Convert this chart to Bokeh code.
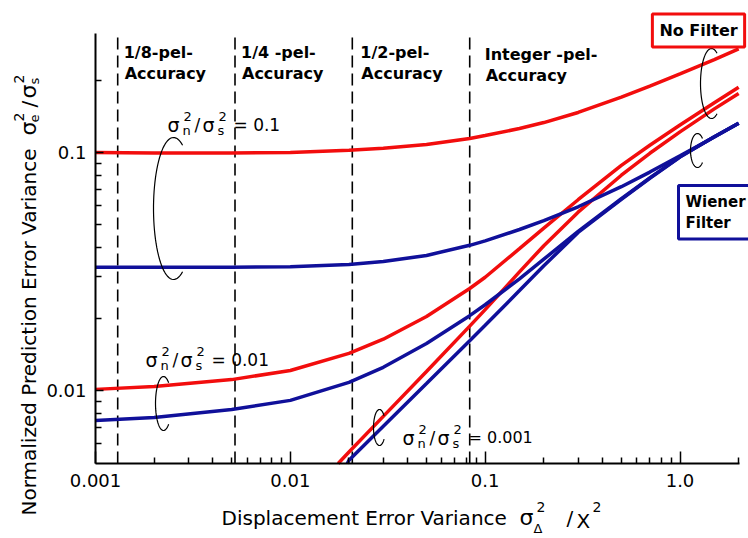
from math import log10, cos, sin, radians, pi

from bokeh.plotting import figure
from bokeh.models import FixedTicker, Label, Range1d
from bokeh.embed import file_html
from bokeh.resources import INLINE

# ---------------------------------------------------------------- data
x_ticks = [0.001, 0.01, 0.1, 1.0]
x_tick_labels = ["0.001", "0.01", "0.1", "1.0"]
x_minor = [0.002, 0.003, 0.004, 0.005, 0.006, 0.007, 0.008, 0.009,
           0.02, 0.03, 0.04, 0.05, 0.06, 0.07, 0.08, 0.09,
           0.2, 0.3, 0.4, 0.5, 0.6, 0.7, 0.8, 0.9, 2.0]
y_ticks = [0.01, 0.1]
y_tick_labels = ["0.01", "0.1"]
y_minor = [0.006, 0.007, 0.008, 0.009,
           0.02, 0.03, 0.04, 0.05, 0.06, 0.07, 0.08, 0.09, 0.2]

# displacement error variance reached with each motion-vector accuracy
accuracy_var = [0.0013, 0.0052, 0.0208, 0.0833]
accuracy_names = ["1/8-pel-", "1/4 -pel-", "1/2-pel-", "Integer -pel-"]

# displacement error variance sigma_delta^2 / X^2
disp_var = [0.001, 0.002, 0.005, 0.01, 0.02, 0.03, 0.05, 0.0833, 0.1,
            0.15, 0.2, 0.3, 0.5, 0.7, 1.0, 1.5, 2.0]
# noise-to-signal ratio 0.1
no_filter_n01 = [0.1, 0.0995, 0.0995, 0.1, 0.102, 0.104, 0.108, 0.1145, 0.1177,
                 0.1260, 0.1335, 0.1472, 0.1707, 0.1901, 0.2139, 0.2455, 0.2723]
wiener_n01 = [0.0329, 0.0329, 0.0329, 0.0331, 0.0338, 0.0348, 0.0369, 0.0407, 0.04251,
              0.04744, 0.0517, 0.05911, 0.07178, 0.08268, 0.09674, 0.1161, 0.1325]
# noise-to-signal ratio 0.01
no_filter_n001 = [0.0101, 0.01039, 0.0111, 0.01213, 0.0143, 0.01641, 0.02045, 0.0268, 0.02989,
                  0.03939, 0.04804, 0.06327, 0.08822, 0.1072, 0.1304, 0.1617, 0.1878]
wiener_n001 = [0.00748, 0.0077, 0.00832, 0.00908, 0.0108, 0.0125, 0.01573, 0.02061, 0.0229,
               0.02944, 0.0356, 0.04654, 0.06388, 0.07815, 0.09581, 0.1164, 0.1325]

# noise-to-signal ratio 0.001 (rises out of the bottom of the error range)
disp_var_nf0001 = [0.0176, 0.02, 0.03, 0.05, 0.0833, 0.1, 0.15, 0.2, 0.3, 0.5, 0.7, 1.0, 1.5, 2.0]
no_filter_n0001 = [0.00493, 0.00551, 0.00778, 0.01201, 0.01863, 0.02186, 0.03148, 0.04056,
                   0.05609, 0.08021, 0.09915, 0.1220, 0.1524, 0.1770]
disp_var_w0001 = [0.0196, 0.02, 0.03, 0.05, 0.0833, 0.1, 0.15, 0.2, 0.3, 0.5, 0.7, 1.0, 1.5, 2.0]
wiener_n0001 = [0.00493, 0.00509, 0.00707, 0.01069, 0.01617, 0.01877, 0.02627, 0.03337,
                0.04613, 0.0635, 0.0779, 0.0956, 0.1163, 0.1325]

# ---------------------------------------------------------------- layout
W, H = 748, 538
# pixel box spanned by the axes inside the canvas
AX_L, AX_R, AX_T, AX_B = 95, 739, 33, 463
XMIN, XMAX = 0.001, 2.02
YMIN, YMAX = 0.00493, 0.316
KX = (AX_R - AX_L) / log10(XMAX / XMIN)      # px per decade
KY = (AX_B - AX_T) / log10(YMAX / YMIN)
XLO = 10 ** (log10(XMIN) - AX_L / KX)
XHI = 10 ** (log10(XMAX) + (W - AX_R) / KX)
YLO = 10 ** (log10(YMIN) - (H - AX_B) / KY)
YHI = 10 ** (log10(YMAX) + AX_T / KY)

RED = "#f20d0d"
BLUE = "#10109a"
FONT = "DejaVu Sans"


def sx_to_x(sx):
    return 10 ** (log10(XLO) + sx / KX)


def sy_to_y(sy):
    return 10 ** (log10(YLO) + (H - sy) / KY)


def x_to_sx(x):
    return (log10(x) - log10(XLO)) * KX


p = figure(width=W, height=H, title=None,
           x_axis_type="log", y_axis_type="log",
           x_range=Range1d(XLO, XHI), y_range=Range1d(YLO, YHI),
           output_backend="svg", toolbar_location=None,
           min_border_left=0, min_border_right=0,
           min_border_top=0, min_border_bottom=0)
p.outline_line_color = None
p.xgrid.visible = False
p.ygrid.visible = False
p.background_fill_color = "white"
p.border_fill_color = "white"

# axes, pinned to the lower-left corner of the error range
p.xaxis.fixed_location = YMIN
p.yaxis.fixed_location = XMIN
p.xaxis.bounds = (XMIN, XMAX)
p.yaxis.bounds = (YMIN, YMAX)
p.xaxis.ticker = FixedTicker(ticks=x_ticks, minor_ticks=x_minor)
p.xaxis.major_label_overrides = dict(zip(x_ticks, x_tick_labels))
p.yaxis.ticker = FixedTicker(ticks=y_ticks, minor_ticks=y_minor)
p.yaxis.major_label_overrides = dict(zip(y_ticks, y_tick_labels))
for ax in (p.xaxis, p.yaxis):
    ax.axis_line_color = "black"
    ax.axis_line_width = 2
    ax.major_tick_line_color = "black"
    ax.minor_tick_line_color = "black"
    ax.major_tick_line_width = 1.5
    ax.minor_tick_line_width = 1.5
    ax.major_tick_out = 0
    ax.minor_tick_out = 0
    ax.minor_tick_in = 6
    ax.major_label_text_font = FONT
    ax.major_label_text_font_size = "18px"
    ax.major_label_text_color = "black"
p.xaxis.major_tick_in = 12
p.yaxis.major_tick_in = 8
p.xaxis.major_label_standoff = 10
p.yaxis.major_label_standoff = 9

# accuracy limits
p.segment(x0=accuracy_var, y0=[YMIN] * len(accuracy_var),
          x1=accuracy_var, y1=[YMAX] * len(accuracy_var),
          line_color="black", line_width=1.6, line_dash="12 6")

# curves
p.line(disp_var, no_filter_n01, line_color=RED, line_width=3.5)
p.line(disp_var, no_filter_n001, line_color=RED, line_width=3.5)
p.line(disp_var_nf0001, no_filter_n0001, line_color=RED, line_width=3.5)
p.line(disp_var, wiener_n01, line_color=BLUE, line_width=3.5)
p.line(disp_var, wiener_n001, line_color=BLUE, line_width=3.5)
p.line(disp_var_w0001, wiener_n0001, line_color=BLUE, line_width=3.5)


# ---------------------------------------------------------------- text
def put(text, sx, sy, size, style="normal", align="left", baseline="alphabetic",
        angle=0.0, **extra):
    p.add_layout(Label(x=sx_to_x(sx), y=sy_to_y(sy),
                       text=text, text_font=FONT, text_font_size=f"{size}px",
                       text_font_style=style, text_color="black",
                       text_align=align, text_baseline=baseline,
                       angle=angle, **extra))


# accuracy captions next to each dashed line
caption_shift = [6, 6, 8, 15]
for v, name, dx in zip(accuracy_var, accuracy_names, caption_shift):
    sx = x_to_sx(v) + dx
    base = 54 if name.startswith("Integer") else 52
    put(name, sx, base, 16, style="bold")
    put("Accuracy", sx + 1, base + 21, 16, style="bold")


def noise_ratio(sx, sy, value, rhs_size=17):
    put("σ", sx, sy, 19)
    put("n", sx + 15, sy + 6, 13)
    put("2", sx + 16, sy - 8, 13)
    put("/", sx + 27, sy, 17)
    put("σ", sx + 35, sy, 19)
    put("s", sx + 50, sy + 6, 13)
    put("2", sx + 51, sy - 8, 13)
    put("= " + value, sx + 66, sy, rhs_size)


noise_ratio(167, 124, "0.1")
noise_ratio(145, 359, "0.01")
noise_ratio(402, 437, "0.001", rhs_size=16)

# brackets grouping curve pairs: (centre x, centre y, rx, ry, start deg, end deg)
brackets = [(173, 208, 20, 71, 63, 297),
            (163, 403, 8, 27, 50, 310),
            (379, 427, 6, 18, 40, 320),
            (711, 83, 11, 35, 60, 300),
            (697, 150, 7, 17, 45, 315)]
for cx, cy, rx, ry, a0, a1 in brackets:
    n = 60
    angs = [radians(a0 + (a1 - a0) * i / (n - 1)) for i in range(n)]
    bx = [sx_to_x(cx + rx * cos(a)) for a in angs]
    by = [sy_to_y(cy - ry * sin(a)) for a in angs]
    p.line(bx, by, line_color="black", line_width=1.2)

# filter boxes
put("No Filter", 698, 30, 16, style="bold", align="center", baseline="middle",
    background_fill_color="white", border_line_color=RED, border_line_width=3,
    padding=7)
put("Wiener\nFilter", 678, 185, 15, style="bold", align="left", baseline="top",
    background_fill_color="white", border_line_color=BLUE, border_line_width=3,
    padding=7)

# x axis title
put("Displacement Error Variance", 221, 517, 20)
put("σ", 519, 517, 22)
put("2", 536, 506, 14)
put("Δ", 533, 528, 13)
put("/", 566, 517, 20)
put("X", 576, 520, 20)
put("2", 592, 506, 14)

# y axis title (reads bottom to top)
YT_X, YT_Y = 28, 515


def put_rot(text, along, perp, size):
    put(text, YT_X - perp, YT_Y - along, size, angle=pi / 2)


put_rot("Normalized Prediction Error Variance", 0, 0, 20)
s0 = 380
put_rot("σ", s0, 0, 22)
put_rot("e", s0 + 13, -6, 13)
put_rot("2", s0 + 14, 10, 14)
put_rot("/", s0 + 28, 0, 20)
put_rot("σ", s0 + 37, 0, 22)
put_rot("s", s0 + 51, -6, 13)
put_rot("2", s0 + 52, 10, 14)

open("out.html", "w").write(file_html(p, INLINE))
